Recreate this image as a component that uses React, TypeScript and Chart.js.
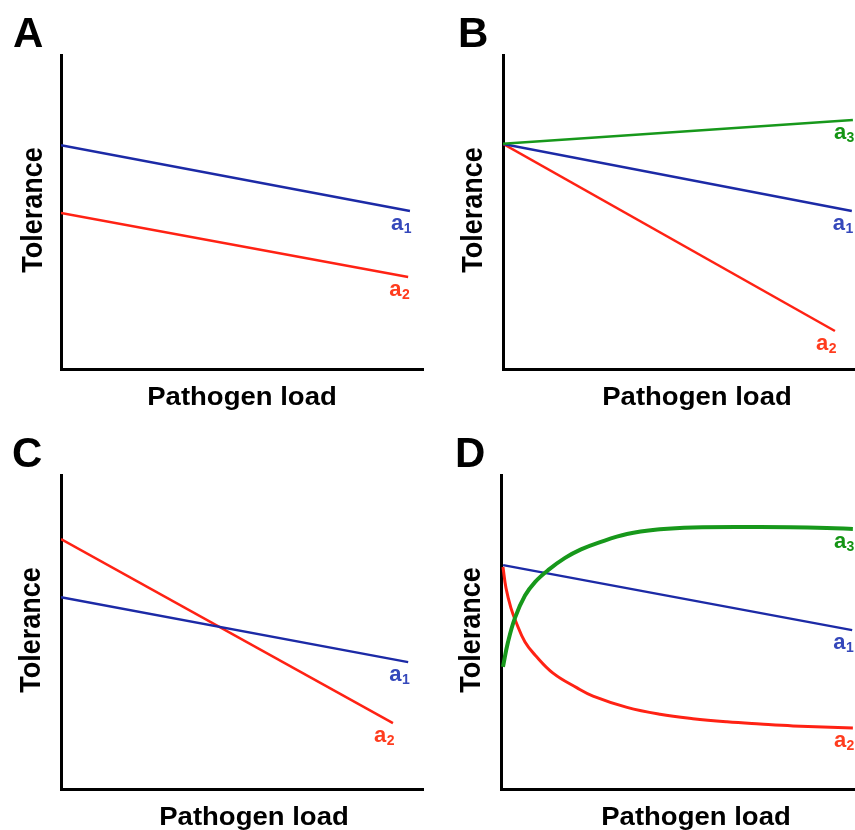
import React, { useEffect, useRef } from 'react';
import { Chart, registerables } from 'chart.js';

Chart.register(...registerables);

// ---- text ----
const panelLetters = ['A', 'B', 'C', 'D'];
const xAxisTitle = 'Pathogen load';
const yAxisTitle = 'Tolerance';

// ---- colours ----
const lineBlue = '#1c2aa6';
const lineRed = '#ff2214';
const lineGreen = '#17981b';
const labelBlue = '#3548bb';
const labelRed = '#ff3c1e';
const labelGreen = '#149414';

// ---- data (x: pathogen load 0-100, y: tolerance 0-100) ----
// Panel A
const A_a1_x = [0, 96.4];
const A_a1_y = [71.3, 50.3];
const A_a2_x = [0, 95.9];
const A_a2_y = [49.7, 29.3];
// Panel B
const B_a3_x = [0, 99.4];
const B_a3_y = [71.7, 79.3];
const B_a1_x = [0, 99.1];
const B_a1_y = [71.7, 50.3];
const B_a2_x = [0, 94.3];
const B_a2_y = [71.7, 12.1];
// Panel C
const C_a1_x = [0, 95.9];
const C_a1_y = [61.1, 40.4];
const C_a2_x = [0, 91.7];
const C_a2_y = [79.6, 21.0];
// Panel D
const D_a1_x = [0.6, 99.2];
const D_a1_y = [71.3, 50.6];
const D_a2_x = [0.56, 1.41, 2.82, 4.24, 6.78, 9.6, 14.7, 21.5, 26.0, 35.6, 44.9, 54.2, 63.8, 73.2, 82.5, 99.4];
const D_a2_y = [70.7, 64.0, 57.6, 53.2, 46.8, 42.7, 36.9, 32.2, 29.6, 26.0, 23.8, 22.4, 21.4, 20.7, 20.1, 19.4];
const D_a3_x = [0.56, 1.98, 3.95, 6.78, 9.6, 13.3, 18.1, 22.6, 27.4, 35.6, 44.9, 54.2, 73.2, 92.1, 99.4];
const D_a3_y = [38.9, 46.8, 54.5, 61.6, 65.9, 69.7, 73.6, 76.3, 78.4, 81.2, 82.7, 83.3, 83.4, 83.1, 82.8];

const FONT = '"Liberation Sans", Arial, Helvetica, sans-serif';

type Series = { xs: number[]; ys: number[]; color: string; labelColor: string; sub: string; width: number; curve?: boolean };

const toPoints = (xs: number[], ys: number[]) => xs.map((x, i) => ({ x, y: ys[i] }));

const panels = [
  {
    letter: panelLetters[0], left: 0, top: 0, w: 430, h: 420,
    pad: { left: 61, top: 55, right: 7, bottom: 51 },
    letterPos: [13, 47], xTitlePos: [242, 405], yTitlePos: [42, 210],
    series: [
      { xs: A_a1_x, ys: A_a1_y, color: lineBlue, labelColor: labelBlue, sub: '1', width: 2.5 },
      { xs: A_a2_x, ys: A_a2_y, color: lineRed, labelColor: labelRed, sub: '2', width: 2.5 },
    ] as Series[],
  },
  {
    letter: panelLetters[1], left: 430, top: 0, w: 425, h: 420,
    pad: { left: 73, top: 55, right: 0, bottom: 51 },
    letterPos: [28, 47], xTitlePos: [267, 405], yTitlePos: [52, 210],
    series: [
      { xs: B_a3_x, ys: B_a3_y, color: lineGreen, labelColor: labelGreen, sub: '3', width: 2.5 },
      { xs: B_a1_x, ys: B_a1_y, color: lineBlue, labelColor: labelBlue, sub: '1', width: 2.5 },
      { xs: B_a2_x, ys: B_a2_y, color: lineRed, labelColor: labelRed, sub: '2', width: 2.5 },
    ] as Series[],
  },
  {
    letter: panelLetters[2], left: 0, top: 420, w: 430, h: 410,
    pad: { left: 61, top: 55, right: 7, bottom: 41 },
    letterPos: [12, 47], xTitlePos: [254, 405], yTitlePos: [40, 210],
    series: [
      { xs: C_a1_x, ys: C_a1_y, color: lineBlue, labelColor: labelBlue, sub: '1', width: 2.5 },
      { xs: C_a2_x, ys: C_a2_y, color: lineRed, labelColor: labelRed, sub: '2', width: 2.5 },
    ] as Series[],
  },
  {
    letter: panelLetters[3], left: 430, top: 420, w: 425, h: 410,
    pad: { left: 71, top: 55, right: 0, bottom: 41 },
    letterPos: [25, 47], xTitlePos: [266, 405], yTitlePos: [50, 210],
    series: [
      { xs: D_a3_x, ys: D_a3_y, color: lineGreen, labelColor: labelGreen, sub: '3', width: 4, curve: true },
      { xs: D_a1_x, ys: D_a1_y, color: lineBlue, labelColor: labelBlue, sub: '1', width: 2.5 },
      { xs: D_a2_x, ys: D_a2_y, color: lineRed, labelColor: labelRed, sub: '2', width: 3, curve: true },
    ] as Series[],
  },
];

const decorPlugin = {
  id: 'panelDecor',
  afterDatasetsDraw(chart: any) {
    const ctx = chart.ctx;
    ctx.save();
    chart.data.datasets.forEach((ds: any, i: number) => {
      const meta = chart.getDatasetMeta(i);
      const pt = meta.data[meta.data.length - 1];
      if (!pt) return;
      const x = pt.x - 19;
      const y = pt.y + 19;
      ctx.fillStyle = ds.labelColor;
      ctx.textBaseline = 'alphabetic';
      ctx.textAlign = 'left';
      ctx.font = `bold 22px ${FONT}`;
      ctx.fillText('a', x, y);
      const aw = ctx.measureText('a').width;
      ctx.font = `bold 14px ${FONT}`;
      ctx.fillText(ds.sub, x + aw + 0.5, y + 3);
    });
    ctx.restore();
  },
  afterDraw(chart: any, _args: any, opts: any) {
    const ctx = chart.ctx;
    ctx.save();
    ctx.fillStyle = '#000';
    ctx.textBaseline = 'alphabetic';
    ctx.textAlign = 'left';
    ctx.font = `bold 42px ${FONT}`;
    ctx.fillText(opts.letter, opts.letterPos[0], opts.letterPos[1]);
    ctx.save();
    ctx.translate(opts.xTitlePos[0], opts.xTitlePos[1]);
    ctx.scale(1.1, 1);
    ctx.textAlign = 'center';
    ctx.font = `bold 25px ${FONT}`;
    ctx.fillText(opts.xTitle, 0, 0);
    ctx.restore();
    ctx.save();
    ctx.translate(opts.yTitlePos[0], opts.yTitlePos[1]);
    ctx.scale(1.1, 1);
    ctx.rotate(-Math.PI / 2);
    ctx.textAlign = 'center';
    ctx.font = `bold 27px ${FONT}`;
    ctx.fillText(opts.yTitle, 0, 0);
    ctx.restore();
    ctx.restore();
  },
};

function Panel({ cfg }: { cfg: (typeof panels)[number] }) {
  const ref = useRef<HTMLCanvasElement | null>(null);
  useEffect(() => {
    if (!ref.current) return;
    const chart = new Chart(ref.current, {
      type: 'line',
      data: {
        datasets: cfg.series.map((s) => ({
          data: toPoints(s.xs, s.ys),
          borderColor: s.color,
          borderWidth: s.width,
          pointRadius: 0,
          fill: false,
          cubicInterpolationMode: 'default',
          tension: s.curve ? 0.4 : 0,
          labelColor: s.labelColor,
          sub: s.sub,
        })) as any,
      },
      options: {
        animation: false,
        responsive: false,
        maintainAspectRatio: false,
        devicePixelRatio: 1,
        layout: { padding: cfg.pad },
        events: [],
        scales: {
          x: {
            type: 'linear', min: 0, max: 100,
            ticks: { display: false },
            grid: { display: false, drawTicks: false },
            border: { display: true, color: '#000', width: 3 },
            title: { display: false },
          },
          y: {
            type: 'linear', min: 0, max: 100,
            ticks: { display: false },
            grid: { display: false, drawTicks: false },
            border: { display: true, color: '#000', width: 3 },
            title: { display: false },
          },
        },
        plugins: {
          legend: { display: false },
          tooltip: { enabled: false },
          panelDecor: {
            letter: cfg.letter,
            letterPos: cfg.letterPos,
            xTitle: xAxisTitle,
            xTitlePos: cfg.xTitlePos,
            yTitle: yAxisTitle,
            yTitlePos: cfg.yTitlePos,
          },
        } as any,
      },
      plugins: [decorPlugin as any],
    });
    return () => chart.destroy();
  }, [cfg]);
  return (
    <div style={{ position: 'absolute', left: cfg.left, top: cfg.top, width: cfg.w, height: cfg.h }}>
      <canvas ref={ref} width={cfg.w} height={cfg.h} style={{ width: cfg.w, height: cfg.h, display: 'block' }} />
    </div>
  );
}

export default function App() {
  useEffect(() => {
    document.body.style.margin = '0';
    document.body.style.background = '#fff';
  }, []);
  return (
    <div style={{ position: 'relative', width: 855, height: 830, overflow: 'hidden', background: '#fff' }}>
      {panels.map((p) => (
        <Panel key={p.letter} cfg={p} />
      ))}
    </div>
  );
}
